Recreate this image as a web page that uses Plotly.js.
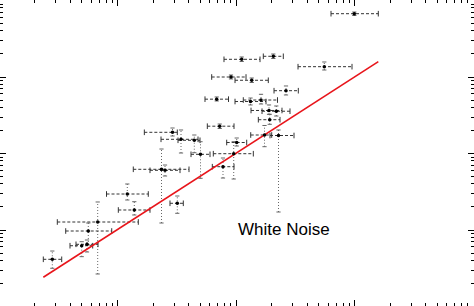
<!DOCTYPE html>
<html>
<head>
<meta charset="utf-8">
<script src="https://cdn.plot.ly/plotly-3.0.1.min.js"></script>
<style>html,body{margin:0;padding:0;background:#fff;}#chart{width:474px;height:306px;}</style>
</head>
<body>
<div id="chart"></div>
<script>
// Measured points (x, y) with horizontal and vertical error extents
const xVal  = [2.818, 4.988, 5.528, 5.669, 6.806, 12.10, 13.86, 23.51, 25.17, 31.96, 29.12, 34.35, 44.48, 50.17, 72.86, 101.4, 95.63, 77.66, 174.0, 228.4, 264.2, 68.72, 162.6, 132.6, 189.9, 218.8, 192.5, 111.7, 206.5, 90.74, 135.7, 556.1, 996.1];
const xLow  = [2.365, 3.974, 4.464, 3.655, 3.105, 8.075, 10.16, 13.59, 18.80, 27.73, 16.84, 23.29, 32.40, 41.71, 57.27, 83.46, 64.33, 63.10, 133.1, 193.6, 209.3, 54.74, 115.2, 98.1, 133.9, 165.8, 154.3, 79.18, 170.0, 62.36, 98.1, 333.7, 633.5];
const xHigh = [3.382, 6.176, 6.845, 8.937, 14.98, 18.19, 18.80, 40.12, 33.69, 35.92, 31.96, 47.78, 49.68, 60.35, 96.19, 123.1, 140.0, 96.19, 200.1, 308.7, 335.6, 86.45, 223.9, 179.1, 244.4, 285.5, 235.1, 159.4, 250.7, 121.5, 187.3, 952.6, 1588];
const yVal  = [4.14e-4, 6.23e-4, 6.50e-4, 9.70e-4, 1.272e-3, 2.955e-3, 1.826e-3, 6.215e-3, 6.03e-3, 2.234e-3, 1.893e-2, 1.533e-2, 1.488e-2, 9.76e-3, 2.275e-2, 1.392e-2, 9.94e-3, 6.72e-3, 1.745e-2, 1.719e-2, 6.62e-2, 5.13e-2, 5.00e-2, 4.78e-2, 3.65e-2, 3.57e-2, 2.765e-2, 0.1703, 0.1865, 0.1, 0.0906, 0.1364, 0.6722];
const yLow  = [3.16e-4, 4.48e-4, 5.16e-4, 6.37e-4, 2.66e-4, 2.467e-3, 1.571e-3, 1.234e-3, 5.08e-3, 1.653e-3, 1.694e-2, 1.015e-2, 1.024e-2, 4.74e-3, 2.122e-2, 1.253e-2, 4.64e-3, 4.78e-3, 1.227e-2, 1.719e-3, 5.82e-2, 4.86e-2, 4.44e-2, 4.31e-2, 3.25e-2, 3.09e-2, 2.408e-2, 0.1594, 0.1745, 0.0942, 0.0847, 0.1234, 0.6366];
const yHigh = [5.31e-4, 7.03e-4, 7.40e-4, 1.234e-3, 2.323e-3, 3.994e-3, 2.344e-3, 1.145e-2, 7.07e-3, 2.782e-3, 2.154e-2, 2.029e-2, 1.745e-2, 1.426e-2, 2.430e-2, 1.594e-2, 1.426e-2, 8.73e-3, 2.323e-2, 2.029e-2, 7.63e-2, 5.48e-2, 5.94e-2, 5.31e-2, 4.31e-2, 4.18e-2, 3.25e-2, 0.1826, 0.1998, 0.1062, 0.0970, 0.1571, 0.7074];

// Fitted white-noise line (end points)
const fitX = [2.366, 1589];
const fitY = [2.41e-4, 0.1585];

const label = "White Noise";

// Build error-bar segments from the arrays
const hx = [], hy = [], vx = [], vy = [];
const hcx = [], hcy = [], vcx = [], vcy = [];
for (let i = 0; i < xVal.length; i++) {
  hx.push(xLow[i], xHigh[i], null); hy.push(yVal[i], yVal[i], null);
  vx.push(xVal[i], xVal[i], null); vy.push(yLow[i], yHigh[i], null);
  hcx.push(xLow[i], xHigh[i]); hcy.push(yVal[i], yVal[i]);
  vcx.push(xVal[i], xVal[i]); vcy.push(yLow[i], yHigh[i]);
}

const traces = [
  {x: vx, y: vy, mode: 'lines', line: {color: '#666', width: 1, dash: '1px,2px'}, hoverinfo: 'skip'},
  {x: hx, y: hy, mode: 'lines', line: {color: '#333', width: 1, dash: '3px,2px'}, hoverinfo: 'skip'},
  {x: hcx, y: hcy, mode: 'markers', marker: {symbol: 'line-ns', size: 4, line: {color: '#333', width: 1}}, hoverinfo: 'skip'},
  {x: vcx, y: vcy, mode: 'markers', marker: {symbol: 'line-ew', size: 3, line: {color: '#666', width: 1}}, hoverinfo: 'skip'},
  {x: fitX, y: fitY, mode: 'lines', line: {color: '#e8151b', width: 1.6}},
  {x: xVal, y: yVal, mode: 'markers', marker: {symbol: 'circle', size: 3.5, color: '#000'}}
];

const axisCommon = {
  type: 'log', showgrid: false, zeroline: false, showticklabels: false,
  showline: true, linecolor: '#000', linewidth: 1, mirror: 'allticks',
  ticks: 'inside', ticklen: 6, tickwidth: 1, tickcolor: '#000', dtick: 1,
  minor: {ticks: 'inside', ticklen: 3, tickwidth: 1, tickcolor: '#000', dtick: 'D1', showgrid: false}
};

const layout = {
  width: 474, height: 306,
  margin: {l: 0, r: 0, t: 0, b: 0, pad: 0},
  paper_bgcolor: '#fff', plot_bgcolor: '#fff',
  showlegend: false,
  xaxis: Object.assign({}, axisCommon, {range: [0.0084, 4.0084]}),
  yaxis: Object.assign({}, axisCommon, {range: [-3.9935, 0.0065]}),
  annotations: [{
    text: label, xref: 'paper', yref: 'paper', x: 0.497, y: 0.2516,
    xanchor: 'left', yanchor: 'middle', showarrow: false,
    font: {family: 'Liberation Sans, Arial, sans-serif', size: 17, color: '#000'}
  }]
};

Plotly.newPlot('chart', traces, layout, {staticPlot: true, displayModeBar: false});
</script>
</body>
</html>
